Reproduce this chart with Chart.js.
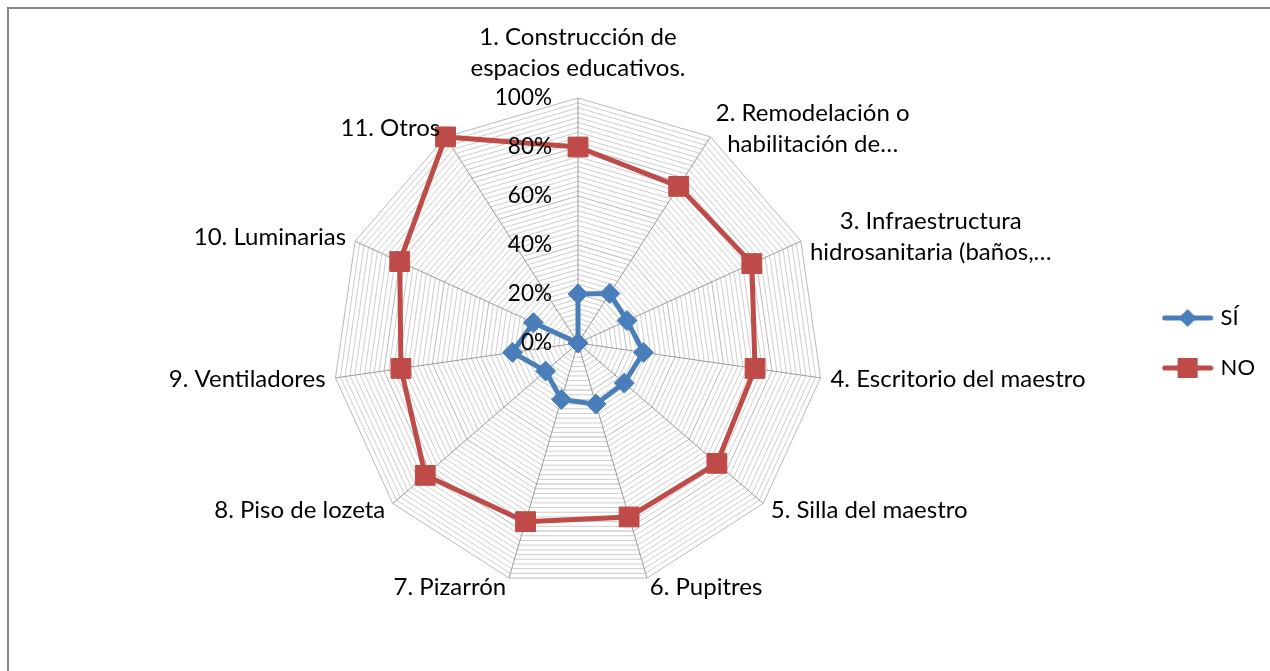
<!DOCTYPE html>
<html>
<head>
<meta charset="utf-8">
<script src="https://cdn.jsdelivr.net/npm/chart.js@4"></script>
<style>
  html, body { margin: 0; padding: 0; background: #fff; overflow: hidden; }
  #frame { position: absolute; left: 7px; top: 7px; width: 1320px; height: 720px; border: 2px solid #878787; }
  #wrap { position: absolute; left: 0; top: 0; width: 1300px; height: 671px; }
</style>
</head>
<body>
<div id="frame"></div>
<div id="wrap"><canvas id="radar_chart"></canvas></div>
<script>
// categories (multi-line labels as in the original sheet)
const categories = [
    ['1. Construcción de', 'espacios educativos.'],
    ['2. Remodelación o', 'habilitación de…'],
    ['3. Infraestructura', 'hidrosanitaria (baños,…'],
    '4. Escritorio del maestro',
    '5. Silla del maestro',
    '6. Pupitres',
    '7. Pizarrón',
    '8. Piso de lozeta',
    '9. Ventiladores',
    '10. Luminarias',
    '11. Otros'
];
const seriesNames = ['SÍ', 'NO'];
const siValues = [20, 24, 22, 27, 25, 26, 24, 17.5, 27, 20, 0];
const noValues = [80, 76, 78, 73, 75, 74, 76, 82.5, 73, 80, 100];
const tickLabels = ['0%', '20%', '40%', '60%', '80%', '100%'];

const blue = '#4a7ebb';
const red = '#be4b48';
const FONT = 'Lato';

// small canvas for legend entries: line with marker in the middle
function legendSymbol (color, shape) {
    const c = document.createElement('canvas');
    c.width = 52; c.height = 28;
    const g = c.getContext('2d');
    g.strokeStyle = color;
    g.lineWidth = 5;
    g.lineCap = 'round';
    g.beginPath(); g.moveTo(3, 14); g.lineTo(49, 14); g.stroke();
    g.fillStyle = color;
    g.beginPath();
    if (shape === 'diamond') {
        g.moveTo(26, 5); g.lineTo(35, 14); g.lineTo(26, 23); g.lineTo(17, 14);
    } else {
        g.rect(16, 4, 20, 20);
    }
    g.closePath(); g.fill();
    return c;
}
const legendSymbols = [legendSymbol(blue, 'diamond'), legendSymbol(red, 'square')];

// draw category labels and % labels the way the spreadsheet does
const radarText = {
    id: 'radarText',
    afterDatasetsDraw (chart) {
        const r = chart.scales.r;
        const ctx = chart.ctx;
        ctx.save();
        ctx.font = '22.5px ' + FONT;
        ctx.fillStyle = '#000';
        ctx.textAlign = 'right';
        ctx.textBaseline = 'middle';
        tickLabels.forEach(t => {
            const v = parseFloat(t);
            ctx.fillText(t, r.xCenter - 26, r.yCenter - r.getDistanceFromCenterForValue(v));
        });
        ctx.restore();
    },
    afterDraw (chart) {
        const r = chart.scales.r;
        const ctx = chart.ctx;
        const lineH = 31;
        ctx.save();
        ctx.font = '24px ' + FONT;
        ctx.fillStyle = '#000';
        ctx.textBaseline = 'middle';
        chart.data.labels.forEach((lab, i) => {
            const lines = Array.isArray(lab) ? lab : [lab];
            const p = r.getPointPosition(i, r.drawingArea + 10);
            const ang = i * 2 * Math.PI / chart.data.labels.length;
            const s = Math.sin(ang);
            let yMid = p.y;
            if (Math.abs(s) < 0.05) {
                ctx.textAlign = 'center';
                yMid = p.y - 4 - lines.length * lineH / 2;
            } else {
                ctx.textAlign = s > 0 ? 'left' : 'right';
            }
            const y0 = yMid - (lines.length - 1) * lineH / 2;
            // two-line labels are centred on each other
            let x = p.x;
            if (lines.length > 1 && Math.abs(s) >= 0.05) {
                const w = Math.max(...lines.map(l => ctx.measureText(l).width));
                ctx.textAlign = 'center';
                x = s > 0 ? p.x + w / 2 : p.x - w / 2;
            }
            lines.forEach((l, k) => ctx.fillText(l, x, y0 + k * lineH));
        });
        ctx.restore();
    }
};

const ctx = document.getElementById('radar_chart');
new Chart(ctx, {
    type: 'radar',
    data: {
        labels: categories,
        datasets: [
            {label: seriesNames[0],
            data: siValues,
            borderColor: blue,
            backgroundColor: blue,
            borderWidth: 5,
            fill: false,
            pointStyle: 'rectRot',
            pointRadius: 10,
            pointBorderWidth: 1,
            pointBackgroundColor: blue,
            pointBorderColor: blue
            },
            {label: seriesNames[1],
            data: noValues,
            borderColor: red,
            backgroundColor: red,
            borderWidth: 5,
            fill: false,
            pointStyle: 'rect',
            pointRadius: 14,
            pointBorderWidth: 1,
            pointBackgroundColor: red,
            pointBorderColor: red
            }
        ]
    },
    options: {
        responsive: true,
        maintainAspectRatio: false,
        animation: false,
        layout: {
            padding: {left: 19, top: 98, bottom: 83, right: 35}
        },
        elements: {
            line: {tension: 0}
        },
        plugins: {
            legend: {
                position: 'right',
                labels: {
                    usePointStyle: true,
                    pointStyleWidth: 44,
                    padding: 28,
                    color: '#000',
                    font: {family: FONT, size: 22},
                    generateLabels: chart => chart.data.datasets.map((d, i) => ({
                        text: d.label,
                        pointStyle: legendSymbols[i],
                        fillStyle: d.borderColor,
                        strokeStyle: d.borderColor,
                        lineWidth: 0,
                        hidden: false,
                        datasetIndex: i,
                        fontColor: '#000'
                    }))
                }
            },
            tooltip: {enabled: false}
        },
        scales: {
            r: {
                min: 0,
                max: 100,
                ticks: {
                    stepSize: 2,
                    display: false
                },
                grid: {
                    color: c => (c.tick && c.tick.value % 20 === 0) ? '#b8b8b8' : '#cdcdcd',
                    lineWidth: 1
                },
                angleLines: {
                    color: '#9a9a9a',
                    lineWidth: 1
                },
                pointLabels: {
                    display: false
                }
            }
        }
    },
    plugins: [radarText]
});
</script>
</body>
</html>
